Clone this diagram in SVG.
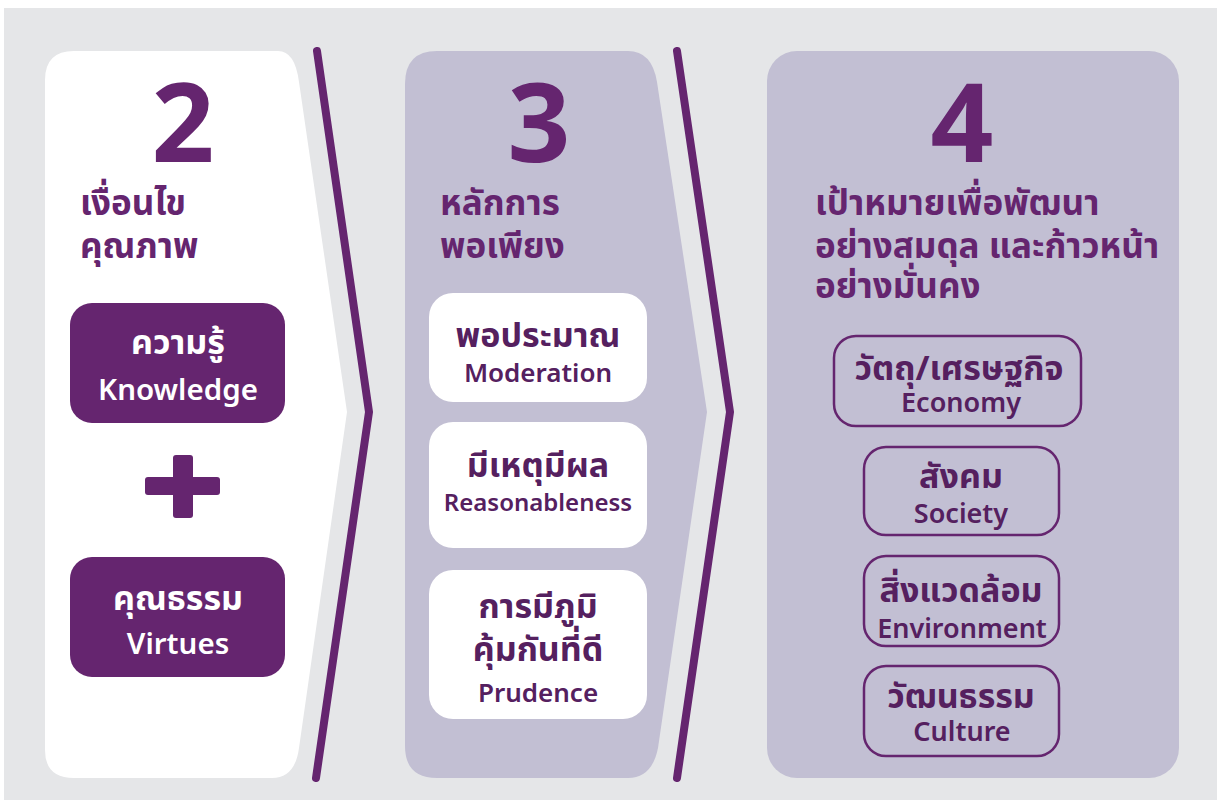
<svg xmlns="http://www.w3.org/2000/svg" width="1217" height="800" viewBox="0 0 1217 800">
<style>
.bg{fill:#e5e6e8}
.lav{fill:#c2bfd3}
.big{font-family:"Noto Sans","Liberation Sans",sans-serif;font-weight:700;font-size:110px;fill:#65256f;text-anchor:middle}
.head{font-family:"Noto Sans Thai","Noto Sans","Liberation Sans",sans-serif;font-weight:700;font-size:35px;fill:#65256f}
.th{font-family:"Noto Sans Thai","Noto Sans","Liberation Sans",sans-serif;font-weight:700;font-size:34px;text-anchor:middle}
.en{font-family:"Noto Sans","Liberation Sans",sans-serif;font-weight:600;font-size:26px;text-anchor:middle}
.w{fill:#ffffff}
.d{fill:#55205f}
.sbox{fill:#65256f}
.obox{fill:none;stroke:#65256f;stroke-width:2.5}
.chev{fill:none;stroke:#65256f;stroke-width:8;stroke-linecap:round;stroke-linejoin:round}
</style>
<rect class="bg" x="4" y="8" width="1213" height="792"/>
<g id="panel-left">
<path fill="#ffffff" d="M45 80 Q45 51 74 51 L278 51 Q295 51 299 82 L347 412 L299 748 Q295 778 272 778 L74 778 Q45 778 45 750 Z"/>
<text class="big" x="183" y="162">2</text>
<text class="head" x="80" y="215">เงื่อนไข</text>
<text class="head" x="80" y="258">คุณภาพ</text>
</g>
<g id="panel-mid">
<path class="lav" d="M405 84 Q405 51 437 51 L628 51 Q652 51 657 82 L707 412 L658 748 Q652 778 628 778 L437 778 Q405 778 405 746 Z"/>
<text class="big" x="539" y="162">3</text>
<text class="head" x="440" y="215">หลักการ</text>
<text class="head" x="440" y="258">พอเพียง</text>
</g>
<g id="panel-right">
<rect class="lav" x="767" y="51" width="412" height="727" rx="30"/>
<text class="big" x="962" y="162">4</text>
<text class="head" x="815" y="215">เป้าหมายเพื่อพัฒนา</text>
<text class="head" x="815" y="258">อย่างสมดุล และก้าวหน้า</text>
<text class="head" x="815" y="298">อย่างมั่นคง</text>
</g>
<g id="connectors">
<polyline class="chev" points="317,51 369,412 316,778"/>
<polyline class="chev" points="677,51 730,412 677,778"/>
</g>
<g id="node-knowledge">
<rect class="sbox" x="70" y="303" width="215" height="120" rx="22"/>
<text class="th w" x="178" y="354">ความรู้</text>
<text class="en w" x="178" y="400" style="font-size:29.5px">Knowledge</text>
</g>
<g id="plus">
<rect class="sbox" x="145" y="477" width="75" height="18" rx="3"/>
<rect class="sbox" x="173" y="455" width="20" height="63" rx="3"/>
</g>
<g id="node-virtues">
<rect class="sbox" x="70" y="557" width="215" height="120" rx="22"/>
<text class="th w" x="178" y="610">คุณธรรม</text>
<text class="en w" x="178" y="654" style="font-size:29.5px">Virtues</text>
</g>
<g id="node-moderation">
<rect fill="#ffffff" x="429" y="293" width="218" height="109" rx="24"/>
<text class="th d" x="538" y="347">พอประมาณ</text>
<text class="en d" x="538" y="382">Moderation</text>
</g>
<g id="node-reasonableness">
<rect fill="#ffffff" x="429" y="422" width="218" height="126" rx="24"/>
<text class="th d" x="538" y="477">มีเหตุมีผล</text>
<text class="en d" x="538" y="511" style="font-size:24px">Reasonableness</text>
</g>
<g id="node-prudence">
<rect fill="#ffffff" x="429" y="570" width="218" height="149" rx="24"/>
<text class="th d" x="538" y="618">การมีภูมิ</text>
<text class="th d" x="538" y="661">คุ้มกันที่ดี</text>
<text class="en d" x="538" y="702">Prudence</text>
</g>
<g id="node-economy">
<rect class="obox" x="834" y="336" width="247" height="90" rx="22"/>
<text class="th d" x="959" y="380">วัตถุ/เศรษฐกิจ</text>
<text class="en d" x="961" y="412" style="font-size:27px">Economy</text>
</g>
<g id="node-society">
<rect class="obox" x="864" y="447" width="195" height="88" rx="22"/>
<text class="th d" x="961" y="488">สังคม</text>
<text class="en d" x="961" y="523" style="font-size:27px">Society</text>
</g>
<g id="node-environment">
<rect class="obox" x="864" y="556" width="195" height="90" rx="22"/>
<text class="th d" x="961" y="602">สิ่งแวดล้อม</text>
<text class="en d" x="962" y="638" style="font-size:27px">Environment</text>
</g>
<g id="node-culture">
<rect class="obox" x="864" y="666" width="195" height="90" rx="22"/>
<text class="th d" x="961" y="708">วัฒนธรรม</text>
<text class="en d" x="962" y="741" style="font-size:27px">Culture</text>
</g>
</svg>
